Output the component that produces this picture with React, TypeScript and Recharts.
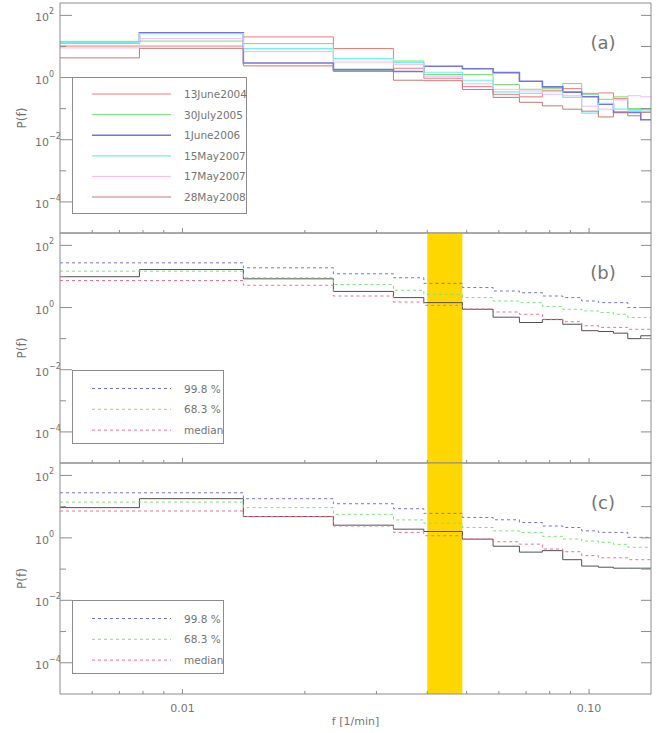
import { ComposedChart, Line, XAxis, YAxis, ReferenceArea, Legend } from 'recharts'

// left edges of the frequency bins [1/min]; fMax closes the last bin
const binEdges = [0.005, 0.00784, 0.01412, 0.02351, 0.03303, 0.03923, 0.04881, 0.05807, 0.06741, 0.07677, 0.08616, 0.0959, 0.1054, 0.1148, 0.1245, 0.134]
const fMax = 0.142

// (a) power per bin for each observing day
const p13June2004 = [10.3, 10.3, 20.3, 8.6, 1.99, 0.95, 0.51, 0.29, 0.24, 0.39, 0.44, 0.31, 0.32, 0.21, 0.096, 0.1]
const p30July2005 = [14.6, 14.9, 12.3, 1.65, 3.4, 1.25, 1.25, 0.6, 0.42, 0.45, 0.64, 0.29, 0.2, 0.24, 0.1, 0.096]
const p1June2006 = [13.2, 27.3, 2.94, 1.8, 1.56, 2.3, 1.91, 1.44, 0.76, 0.5, 0.34, 0.24, 0.14, 0.076, 0.076, 0.044]
const p15May2007 = [13.5, 26, 8.5, 4.06, 3.1, 1.48, 0.82, 0.345, 0.31, 0.35, 0.23, 0.072, 0.148, 0.096, 0.09, 0.083]
const p17May2007 = [9.0, 17.8, 6.8, 3.16, 2.67, 1.1, 0.63, 0.42, 0.37, 0.29, 0.26, 0.12, 0.096, 0.19, 0.26, 0.24]
const p28May2008 = [4.3, 8.7, 2.37, 1.58, 0.82, 0.79, 0.41, 0.23, 0.16, 0.123, 0.096, 0.083, 0.054, 0.077, 0.059, 0.076]

// (b) spectrum with simulated confidence levels
const specB = [9.8, 16.7, 8.4, 3.3, 2.09, 1.44, 0.88, 0.49, 0.33, 0.41, 0.29, 0.18, 0.17, 0.15, 0.1, 0.124]
const lvl998B = [27.4, 27.4, 19, 12.2, 9.1, 6, 4.4, 3.4, 3.0, 2.35, 2.09, 1.63, 1.44, 1.44, 1.0, 1.0]
const lvl683B = [14.8, 14.8, 9.1, 5.5, 3.6, 2.66, 2.09, 1.63, 1.44, 1.07, 0.88, 0.78, 0.69, 0.61, 0.48, 0.48]
const medianB = [7.4, 7.4, 5.2, 2.35, 1.51, 1.18, 0.9, 0.72, 0.61, 0.42, 0.35, 0.26, 0.23, 0.23, 0.2, 0.2]

// (c)
const specC = [9.3, 18, 4.8, 2.55, 1.9, 1.6, 0.91, 0.54, 0.35, 0.39, 0.2, 0.125, 0.115, 0.107, 0.107, 0.107]
const lvl998C = [27.8, 27.8, 18, 12.4, 8.6, 6.1, 4.5, 3.8, 3.1, 2.4, 2.15, 1.68, 1.5, 1.5, 1.04, 1.04]
const lvl683C = [14, 14, 9.3, 5.7, 3.76, 2.95, 2.15, 1.68, 1.5, 1.12, 0.92, 0.79, 0.72, 0.62, 0.5, 0.5]
const medianC = [7.25, 7.25, 4.8, 2.4, 1.5, 1.17, 0.92, 0.75, 0.63, 0.44, 0.36, 0.27, 0.23, 0.23, 0.2, 0.2]

const xTicks = [0.006, 0.007, 0.008, 0.009, 0.01, 0.02, 0.03, 0.04, 0.05, 0.06, 0.07, 0.08, 0.09, 0.1]
const xTickLabels: Record<string, string> = { '0.01': '0.01', '0.1': '0.10' }
const yTicks = [1e-4, 1e-3, 1e-2, 1e-1, 1, 10, 100]
const band = [0.04, 0.0488]

const xDomain = [0.005, fMax]
const yDomain = [1e-5, 250]

const AXIS = '#8c8c8c'
const TEXT = '#747474'
const FONT = '"DejaVu Sans", sans-serif'

type Series = { key: string; name: string; values: number[]; color: string; width?: number; dash?: string; hideInLegend?: boolean }

const seriesA: Series[] = [
  { key: 's1', name: '13June2004', values: p13June2004, color: '#f07a7a' },
  { key: 's2', name: '30July2005', values: p30July2005, color: '#74e074' },
  { key: 's3', name: '1June2006', values: p1June2006, color: '#7474dc', width: 1.6 },
  { key: 's4', name: '15May2007', values: p15May2007, color: '#72eeee', width: 1.2 },
  { key: 's5', name: '17May2007', values: p17May2007, color: '#f2b8f2' },
  { key: 's6', name: '28May2008', values: p28May2008, color: '#c47878' },
]

const levelsStyle = (spec: number[], hi: number[], mid: number[], med: number[]): Series[] => [
  { key: 'spec', name: 'spectrum', values: spec, color: '#505050', hideInLegend: true },
  { key: 'hi', name: '99.8 %', values: hi, color: '#7474d4', dash: '3 3' },
  { key: 'mid', name: '68.3 %', values: mid, color: '#7ee07e', dash: '3 3' },
  { key: 'med', name: 'median', values: med, color: '#ee7090', dash: '3 3' },
]
const seriesB = levelsStyle(specB, lvl998B, lvl683B, medianB)
const seriesC = levelsStyle(specC, lvl998C, lvl683C, medianC)

function buildRows(series: Series[]) {
  const rows: any[] = binEdges.map((f, i) => {
    const r: any = { f }
    series.forEach((s) => (r[s.key] = s.values[i]))
    return r
  })
  const last: any = { f: fMax }
  series.forEach((s) => (last[s.key] = s.values[s.values.length - 1]))
  rows.push(last)
  return rows
}

const isDecade = (v: number) => Math.abs(Math.log10(v) - Math.round(Math.log10(v))) < 1e-6

const LeftTick = (props: any) => {
  const { x, y, payload } = props
  const exp = Math.round(Math.log10(payload.value))
  const major = exp % 2 === 0
  return (
    <g>
      <line x1={x} x2={x + (major ? 12 : 6)} y1={y} y2={y} stroke={AXIS} />
      {major && (
        <text x={x - 25} y={y + 6} fill={TEXT} fontSize={11} fontFamily={FONT}>
          10<tspan dy={-7} fontSize={8}>{exp < 0 ? '\u2212' + -exp : exp}</tspan>
        </text>
      )}
    </g>
  )
}

const RightTick = (props: any) => {
  const { x, y } = props
  return <line x1={x - 10} x2={x} y1={y} y2={y} stroke={AXIS} />
}

const TopTick = (props: any) => {
  const { x, y, payload } = props
  const len = isDecade(payload.value) ? 5 : 3
  return <line x1={x} x2={x} y1={y} y2={y + len} stroke={AXIS} />
}

const BottomTick = (props: any) => {
  const { x, y, payload, showLabels } = props
  const major = isDecade(payload.value)
  const label = xTickLabels[String(payload.value)]
  return (
    <g>
      <line x1={x} x2={x} y1={y - (major ? 5 : 3)} y2={y} stroke={AXIS} />
      {showLabels && label && (
        <text x={x} y={y + 18} textAnchor="middle" fill={TEXT} fontSize={11} fontFamily={FONT}>{label}</text>
      )}
    </g>
  )
}

const LegendBox = ({ series, w, h, first, step }: { series: Series[]; w: number; h: number; first: number; step: number }) => (
  <svg width={w + 2} height={h + 2} style={{ display: 'block' }}>
    <rect x={0.5} y={0.5} width={w} height={h} fill="#fff" stroke={AXIS} />
    {series.filter((s) => !s.hideInLegend).map((s, i) => {
      const y = first + i * step
      return (
        <g key={s.key}>
          <line x1={20} x2={99} y1={y} y2={y} stroke={s.color} strokeWidth={s.width ?? 1} strokeDasharray={s.dash} />
          <text x={112} y={y + 4} fill={TEXT} fontSize={10.5} fontFamily={FONT}>{s.name}</text>
        </g>
      )
    })}
  </svg>
)

type PanelProps = {
  top: number
  height: number
  marginTop: number
  marginBottom: number
  bottomAxisHeight: number
  series: Series[]
  letter: string
  showBand?: boolean
  showXLabels?: boolean
  legend: { left: number; top: number; w: number; h: number; first: number; step: number }
}

// marginTop / marginBottom include the 1px boxes of the top and bottom x axes
function Panel({ top, height, marginTop, marginBottom, bottomAxisHeight, series, letter, showBand, showXLabels, legend }: PanelProps) {
  const rows = buildRows(series)
  return (
    <div style={{ position: 'absolute', left: 0, top }}>
      <ComposedChart width={671} height={height} data={rows} margin={{ top: marginTop - 1, right: 0, bottom: marginBottom, left: 0 }}>
        <XAxis dataKey="f" type="number" scale="log" domain={xDomain} allowDataOverflow ticks={xTicks} interval={0}
          height={bottomAxisHeight} tickSize={0} tickMargin={0} tickLine={false} stroke={AXIS}
          tick={<BottomTick showLabels={showXLabels} />}
          label={showXLabels ? {
            content: (p: any) => (
              <text x={p.viewBox.x + p.viewBox.width / 2} y={p.viewBox.y + 31} textAnchor="middle" fill={TEXT} fontSize={11} fontFamily={FONT}>f [1/min]</text>
            ),
          } : undefined} />
        <XAxis xAxisId="top" orientation="top" type="number" scale="log" domain={xDomain} allowDataOverflow ticks={xTicks} interval={0}
          height={1} tickSize={0} tickMargin={0} tickLine={false} stroke={AXIS} tick={<TopTick />} />
        <YAxis type="number" scale="log" domain={yDomain} allowDataOverflow ticks={yTicks} interval={0}
          width={60} tickSize={0} tickMargin={0} tickLine={false} stroke={AXIS} tick={<LeftTick />}
          label={{
            content: (p: any) => {
              const cy = p.viewBox.y + p.viewBox.height / 2
              return (
                <text x={26} y={cy} transform={`rotate(-90 26 ${cy})`} textAnchor="middle" fill={TEXT} fontSize={12} fontFamily={FONT}>P(f)</text>
              )
            },
          }} />
        <YAxis yAxisId="right" orientation="right" type="number" scale="log" domain={yDomain} allowDataOverflow ticks={yTicks} interval={0}
          width={20} tickSize={0} tickMargin={0} tickLine={false} stroke={AXIS} tick={<RightTick />} />
        {showBand && <ReferenceArea x1={band[0]} x2={band[1]} fill="#ffd700" fillOpacity={1} stroke="none" ifOverflow="hidden" />}
        {series.map((s) => (
          <Line key={s.key} dataKey={s.key} name={s.name} type="stepAfter" stroke={s.color} strokeWidth={s.width ?? 1}
            strokeDasharray={s.dash} dot={false} activeDot={false} isAnimationActive={false}
            legendType={s.hideInLegend ? 'none' : 'line'} />
        ))}
        <Legend layout="horizontal" verticalAlign="middle" align="center"
          wrapperStyle={{ left: legend.left, top: legend.top, width: legend.w + 2 }}
          content={() => <LegendBox series={series} w={legend.w} h={legend.h} first={legend.first} step={legend.step} />} />
        <text x={603} y={marginTop + 39} textAnchor="middle" dominantBaseline="central" fill={TEXT} fontSize={18} fontFamily={FONT}>{letter}</text>
      </ComposedChart>
    </div>
  )
}

export default function App() {
  return (
    <div style={{ position: 'absolute', left: 0, top: 0, width: 671, height: 733, background: '#fff', fontFamily: FONT }}>
      <Panel top={0} height={240} marginTop={3} marginBottom={6} bottomAxisHeight={1} series={seriesA} letter="(a)"
        legend={{ left: 72, top: 77, w: 174, h: 136, first: 17, step: 20.6 }} />
      <Panel top={226} height={244} marginTop={7} marginBottom={6} bottomAxisHeight={1} series={seriesB} letter="(b)" showBand
        legend={{ left: 72, top: 144, w: 151, h: 73, first: 18.5, step: 20.8 }} />
      <Panel top={456} height={277} marginTop={7} marginBottom={0} bottomAxisHeight={39} series={seriesC} letter="(c)" showBand showXLabels
        legend={{ left: 72, top: 144, w: 151, h: 73, first: 18.5, step: 20.8 }} />
    </div>
  )
}
